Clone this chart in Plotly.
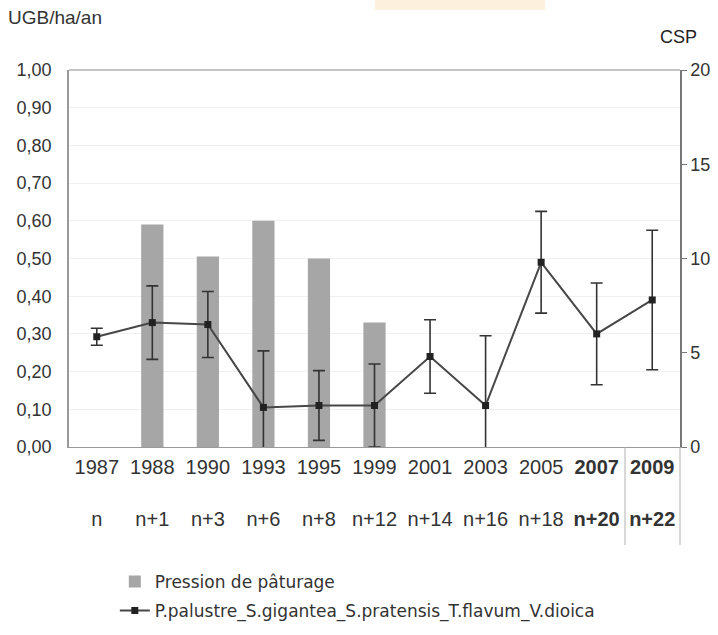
import plotly.graph_objects as go

years = ["1987", "1988", "1990", "1993", "1995", "1999", "2001", "2003", "2005", "2007", "2009"]
rel_years = ["n", "n+1", "n+3", "n+6", "n+8", "n+12", "n+14", "n+16", "n+18", "n+20", "n+22"]
bold_years = ["2007", "2009"]
pression = [None, 0.59, 0.505, 0.60, 0.50, 0.33, None, None, None, None, None]
csp = [5.85, 6.6, 6.5, 2.1, 2.2, 2.2, 4.8, 2.2, 9.8, 6.0, 7.8]
csp_err = [0.45, 1.95, 1.75, 3.0, 1.85, 2.2, 1.95, 3.7, 2.7, 2.7, 3.7]
left_ticks = [0.0, 0.1, 0.2, 0.3, 0.4, 0.5, 0.6, 0.7, 0.8, 0.9, 1.0]
right_ticks = [0, 5, 10, 15, 20]

FONT = "Liberation Sans, Arial, sans-serif"
LEG_FONT = "DejaVu Sans, Liberation Sans, sans-serif"
TXT = "#333333"

tick_text = []
for yr, rl in zip(years, rel_years):
    if yr in bold_years:
        tick_text.append(f"<b>{yr}</b><br><br><b>{rl}</b>")
    else:
        tick_text.append(f"{yr}<br><br>{rl}")

fig = go.Figure()
fig.add_trace(go.Bar(
    x=years, y=pression, name="Pression de pâturage", legendgroup="a",
    marker=dict(color="#a6a6a6", line=dict(width=0)), width=0.4,
))
fig.add_trace(go.Scatter(
    x=years, y=csp, yaxis="y2", mode="lines+markers", legendgroup="b",
    name="P.palustre_S.gigantea_S.pratensis_T.flavum_V.dioica",
    line=dict(color="#474747", width=2),
    marker=dict(color="#222222", size=7, symbol="square"),
    error_y=dict(type="data", array=csp_err, color="#333333", thickness=1.6, width=6),
))

fig.update_layout(
    width=718, height=635,
    margin=dict(l=69, r=38, t=70, b=188, autoexpand=False),
    paper_bgcolor="white", plot_bgcolor="white",
    separators=", ",
    font=dict(family=FONT, size=18, color=TXT),
    xaxis=dict(
        type="category", categoryorder="array", categoryarray=years,
        range=[-0.5, len(years) - 0.5], automargin=False,
        tickvals=years, ticktext=tick_text,
        tickfont=dict(size=20, color=TXT), showgrid=False,
        showline=True, linecolor="#9a9a9a", linewidth=1,
        ticks="outside", ticklen=2, tickcolor="rgba(0,0,0,0)",
    ),
    yaxis=dict(
        range=[0, 1.0], tickvals=left_ticks, tickformat=".2f", automargin=False,
        showline=True, linecolor="#9a9a9a", linewidth=1.5,
        ticks="outside", ticklen=12, tickcolor="rgba(0,0,0,0)",
        showgrid=True, gridcolor="#f0f0f0", gridwidth=1, zeroline=False,
        tickfont=dict(size=18, color=TXT),
    ),
    yaxis2=dict(
        range=[0, 20], tickvals=right_ticks, overlaying="y", side="right",
        automargin=False,
        showline=True, linecolor="#777777", linewidth=1.5, ticks="outside",
        ticklen=5, tickcolor="#777777", showgrid=False, zeroline=False,
        tickfont=dict(size=18, color=TXT),
    ),
    legend=dict(
        x=0.075, y=-0.31, xanchor="left", yanchor="top",
        font=dict(family=LEG_FONT, size=17, color=TXT), bgcolor="rgba(0,0,0,0)",
        tracegroupgap=4, traceorder="grouped",
    ),
    showlegend=True,
)

# top frame line
fig.add_shape(type="line", xref="paper", yref="paper", x0=0, x1=1, y0=1, y1=1,
              line=dict(color="#8a8a8a", width=1.2))
# table separators under the axis
for xp in [(625 - 69) / 611, 1.0]:
    fig.add_shape(type="line", xref="paper", yref="paper", x0=xp, x1=xp,
                  y0=0, y1=-0.26, line=dict(color="#b0b0b0", width=1))
# faint orange strip at the top of the scan
fig.add_shape(type="rect", xref="paper", yref="paper",
              x0=(375 - 69) / 611, x1=(545 - 69) / 611, y0=(447 - 0) / 377, y1=(447 - 10) / 377,
              fillcolor="#fdf1dd", line=dict(width=0), layer="below")

fig.add_annotation(x=-0.103, y=1.138, xref="paper", yref="paper", text="UGB/ha/an",
                   showarrow=False, xanchor="left", yanchor="middle",
                   font=dict(size=19, color=TXT))
fig.add_annotation(x=0.997, y=1.087, xref="paper", yref="paper", text="CSP",
                   showarrow=False, xanchor="center", yanchor="middle",
                   font=dict(size=18, color="#222222"))

fig.write_html("out.html", config={"displayModeBar": False},
               post_script="document.body.style.margin='0px';")
